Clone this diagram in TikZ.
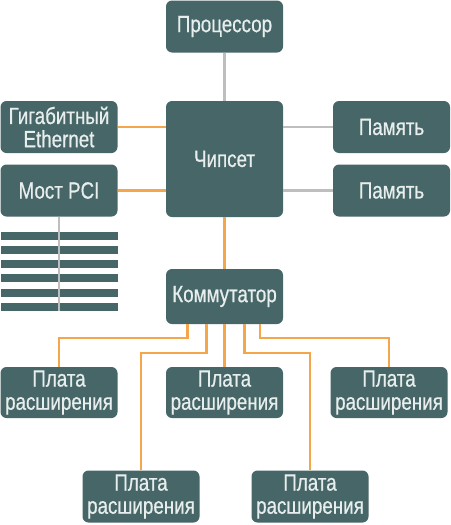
\documentclass[tikz,border=0pt]{standalone}
\usepackage{fontspec}
\setmainfont[FakeStretch=0.8,FakeBold=0.6]{Liberation Sans}
\usepackage{xcolor}
\usepackage{tikz}

\definecolor{boxfill}{RGB}{70,102,103}
\definecolor{boxtext}{RGB}{232,238,238}
\definecolor{busorange}{RGB}{245,165,74}
\definecolor{busgray}{RGB}{190,190,190}

\tikzset{
  unit/.style={fill=boxfill, text=boxtext, rounded corners=4.5pt, inner sep=0pt,
    align=center, minimum width=87.75pt, minimum height=39pt,
    font=\fontsize{17.6}{17.4}\selectfont},
  slot/.style={fill=boxfill, inner sep=0pt, minimum width=87.75pt, minimum height=6pt},
  orangebus/.style={draw=busorange, line width=1.6pt},
  graybus/.style={draw=busgray, line width=1.6pt}
}

\begin{document}
\begin{tikzpicture}[x=0.75pt,y=0.75pt,yscale=-1,xscale=1]
\useasboundingbox (0,0) rectangle (450,525);
%Shape: Rounded Rectangle
\node[unit] (cpu) at (224.5,26.5) {Процессор};
\node[unit, minimum height=87pt] (chipset) at (224.5,159) {Чипсет};
\node[unit] (gbe) at (59,127) {Гигабитный\\Ethernet};
\node[unit] (pci) at (59,190.5) {Мост PCI};
\node[unit] (mem1) at (391.5,127) {Память};
\node[unit] (mem2) at (391.5,190.5) {Память};
\node[unit, minimum height=41.25pt] (switch) at (224.5,296.5) {Коммутатор};
\node[unit, minimum height=38.25pt] (card1) at (59,392.5) {Плата\\расширения};
\node[unit, minimum height=38.25pt] (card2) at (224.5,392.5) {Плата\\расширения};
\node[unit, minimum height=38.25pt] (card3) at (389,392.5) {Плата\\расширения};
\node[unit] (card4) at (141,496.5) {Плата\\расширения};
\node[unit] (card5) at (310,496.5) {Плата\\расширения};
%Shape: PCI slots
\foreach \i in {1,...,6}
  \node[slot] (slot\i) at (59,{235.5+14.3*(\i-1)}) {};
%Straight Lines
\draw[graybus] (cpu) -- (chipset);
\draw[graybus] (mem1.west) -- (mem1.west -| chipset.east);
\draw[graybus] (mem2.west) -- (mem2.west -| chipset.east);
\draw[graybus] (pci.south) -- (pci.south |- slot6.south);
\draw[orangebus] (gbe.east) -- (gbe.east -| chipset.west);
\draw[orangebus] (pci.east) -- (pci.east -| chipset.west);
\draw[orangebus] (chipset) -- (switch);
%Bus to cards
\draw[orangebus] ([xshift=-27.75pt]switch.south) -- ++(0,14) -| (card1.north);
\draw[orangebus] ([xshift=-13.5pt]switch.south) -- ++(0,29) -| (card4.north);
\draw[orangebus] (switch.south) -- (card2.north);
\draw[orangebus] ([xshift=15pt]switch.south) -- ++(0,29) -| (card5.north);
\draw[orangebus] ([xshift=26.5pt]switch.south) -- ++(0,14) -| (card3.north);
\end{tikzpicture}
\end{document}
